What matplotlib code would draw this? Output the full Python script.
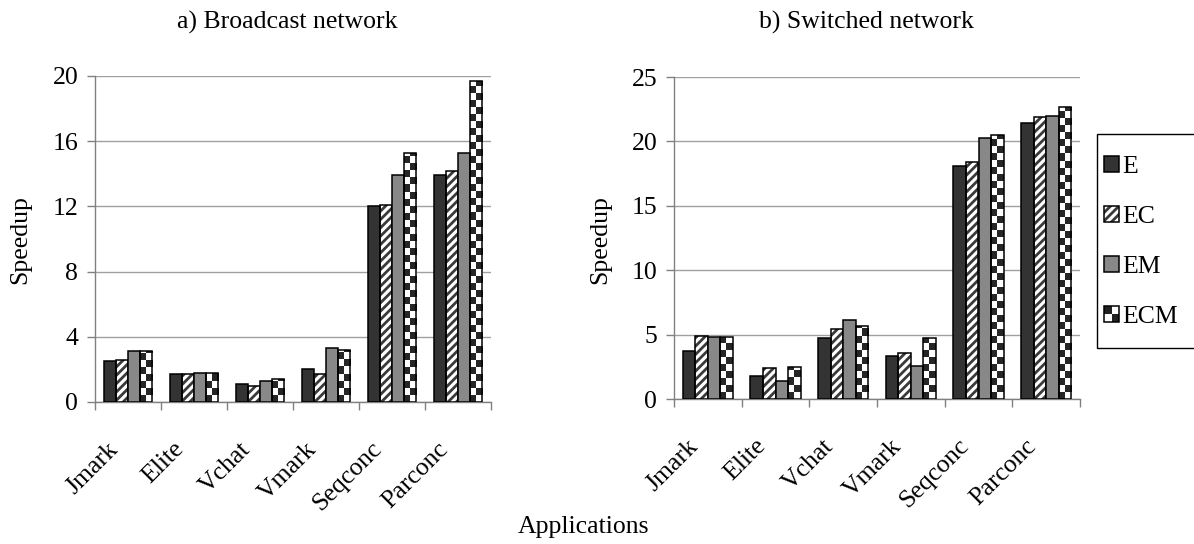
import numpy as np
import matplotlib
matplotlib.use("Agg")
import matplotlib.pyplot as plt
import matplotlib.transforms as mtransforms
from matplotlib.patches import Rectangle
from matplotlib.legend_handler import HandlerBase

plt.rcParams['font.family'] = ['Liberation Serif', 'DejaVu Serif']
plt.rcParams['hatch.linewidth'] = 2.0

## data
apps = ["Jmark", "Elite", "Vchat", "Vmark", "Seqconc", "Parconc"]
series = ["E", "EC", "EM", "ECM"]

# a) Broadcast network
bcast_E = [2.5, 1.7, 1.1, 2.0, 12.0, 13.9]
bcast_EC = [2.6, 1.7, 1.0, 1.7, 12.1, 14.2]
bcast_EM = [3.1, 1.8, 1.3, 3.3, 13.9, 15.3]
bcast_ECM = [3.1, 1.8, 1.4, 3.2, 15.3, 19.7]

# b) Switched network
sw_E = [3.7, 1.8, 4.7, 3.3, 18.1, 21.4]
sw_EC = [4.9, 2.4, 5.4, 3.6, 18.4, 21.9]
sw_EM = [4.8, 1.4, 6.1, 2.6, 20.3, 22.0]
sw_ECM = [4.8, 2.5, 5.7, 4.7, 20.5, 22.7]

FS = 18.5
DARK = '#333333'
GRAY = '#888888'
AXC = '#808080'

W, H = 1194, 544
fig = plt.figure(figsize=(W / 100, H / 100), dpi=100)


def px_axes(x0, x1, ytop, ybot):
    return fig.add_axes([x0 / W, 1 - ybot / H, (x1 - x0) / W, (ybot - ytop) / H])


def checker_bar(ax, rect, cell_h):
    x0, w, h = rect.get_x(), rect.get_width(), rect.get_height()
    nr = int(np.ceil(h / cell_h)) + 1
    ii, jj = np.mgrid[0:nr, 0:2]
    pat = (ii + jj) % 2
    img = np.ones((nr, 2, 3))
    img[pat == 0] = [0.15, 0.15, 0.15]
    im = ax.imshow(img, extent=[x0, x0 + w, 0, nr * cell_h], origin='lower',
                   aspect='auto', interpolation='nearest', zorder=3)
    im.set_clip_path(rect)


def draw_panel(ax, vals, ymax, ystep):
    n = len(apps)
    x = np.arange(n) + 0.5
    w = 0.185
    offs = (np.arange(4) - 1.5) * w
    ax.set_xlim(0, n)
    ax.set_ylim(0, ymax)

    ax.bar(x + offs[0], vals[0], w, color=DARK, edgecolor='black', lw=1.1, zorder=4)
    ax.bar(x + offs[1], vals[1], w, color='white', edgecolor='#3a3a3a', hatch='////',
           lw=0, zorder=3)
    ax.bar(x + offs[1], vals[1], w, fill=False, edgecolor='black', lw=1.1, zorder=4)
    ax.bar(x + offs[2], vals[2], w, color=GRAY, edgecolor='black', lw=1.1, zorder=4)
    outl = ax.bar(x + offs[3], vals[3], w, fill=False, edgecolor='black', lw=1.1, zorder=4)

    # checker fill for ECM, cells roughly 7 px tall
    ppu = ax.get_position().height * H / ymax
    for r in outl:
        clip = Rectangle((r.get_x(), 0), r.get_width(), r.get_height(),
                         transform=ax.transData)
        checker_bar(ax, clip, 7.0 / ppu)
    ax.set_xlim(0, n)
    ax.set_ylim(0, ymax)

    ax.set_yticks(np.arange(0, ymax + 0.1, ystep))
    ax.yaxis.grid(True, color='#a0a0a0', lw=1.0)
    ax.set_axisbelow(True)
    ax.set_xticks(np.arange(n + 1))
    ax.set_xticklabels([])
    for s in ['top', 'right']:
        ax.spines[s].set_visible(False)
    for s in ['left', 'bottom']:
        ax.spines[s].set_color(AXC)
        ax.spines[s].set_linewidth(1.0)
    ax.tick_params(axis='both', colors=AXC, labelcolor='black', labelsize=FS,
                   length=6, width=1.0, direction='out')
    ax.tick_params(axis='y', pad=6)

    tr = mtransforms.offset_copy(ax.get_xaxis_transform(), fig=fig,
                                 x=-21, y=-36, units='dots')
    for xi, lab in zip(x, apps):
        ax.text(xi, 0, lab, transform=tr, rotation=45, ha='right', va='top',
                rotation_mode='anchor', fontsize=FS)


ax1 = px_axes(95, 491, 76, 402)
draw_panel(ax1, [bcast_E, bcast_EC, bcast_EM, bcast_ECM], 20, 4)
ax2 = px_axes(674, 1080, 77, 399)
draw_panel(ax2, [sw_E, sw_EC, sw_EM, sw_ECM], 25, 5)

fig.text(287 / W, 1 - 22 / H, "a) Broadcast network", ha='center', va='center', fontsize=FS)
fig.text(866 / W, 1 - 22 / H, "b) Switched network", ha='center', va='center', fontsize=FS)
fig.text(20 / W, 1 - 240 / H, "Speedup", rotation=90, ha='center', va='center', fontsize=FS)
fig.text(600 / W, 1 - 240 / H, "Speedup", rotation=90, ha='center', va='center', fontsize=FS)
fig.text(584 / W, 1 - 527 / H, "Applications", ha='center', va='center', fontsize=FS)


## legend with square swatches
class Swatch:
    def __init__(self, kind):
        self.kind = kind


class SwatchHandler(HandlerBase):
    def create_artists(self, legend, orig, xd, yd, width, height, fontsize, trans):
        s = height * 0.95
        x0, y0 = -xd + (width - s), -yd + (height - s) / 2
        arts = []
        if orig.kind == 'E':
            arts.append(Rectangle((x0, y0), s, s, fc=DARK, ec='black', lw=1.1))
        elif orig.kind == 'EM':
            arts.append(Rectangle((x0, y0), s, s, fc=GRAY, ec='black', lw=1.1))
        elif orig.kind == 'EC':
            arts.append(Rectangle((x0, y0), s, s, fc='white', ec='#3a3a3a',
                                  hatch='////', lw=0))
            arts.append(Rectangle((x0, y0), s, s, fill=False, ec='black', lw=1.1))
        else:
            h2 = s / 2
            for (cx, cy, c) in [(0, 1, '#222222'), (1, 1, 'white'),
                                (0, 0, 'white'), (1, 0, '#222222')]:
                arts.append(Rectangle((x0 + cx * h2, y0 + cy * h2), h2, h2, fc=c, lw=0))
            arts.append(Rectangle((x0, y0), s, s, fill=False, ec='black', lw=1.1))
        for a in arts:
            a.set_transform(trans)
        return arts


handles = [Swatch(k) for k in series]
leg = fig.legend(handles, series, handler_map={Swatch: SwatchHandler()},
                 loc='center left', bbox_to_anchor=(1104 / W, 1 - 242 / H),
                 fontsize=FS, frameon=False,
                 labelspacing=1.08, handlelength=0.6, handleheight=0.6,
                 handletextpad=0.1, borderpad=0, borderaxespad=0)

# legend box
fig.add_artist(Rectangle((1097 / W, 1 - 348 / H), 110 / W, 214 / H,
                         transform=fig.transFigure, fill=False, ec='black', lw=1.0))

fig.savefig("out.png", dpi=100)
